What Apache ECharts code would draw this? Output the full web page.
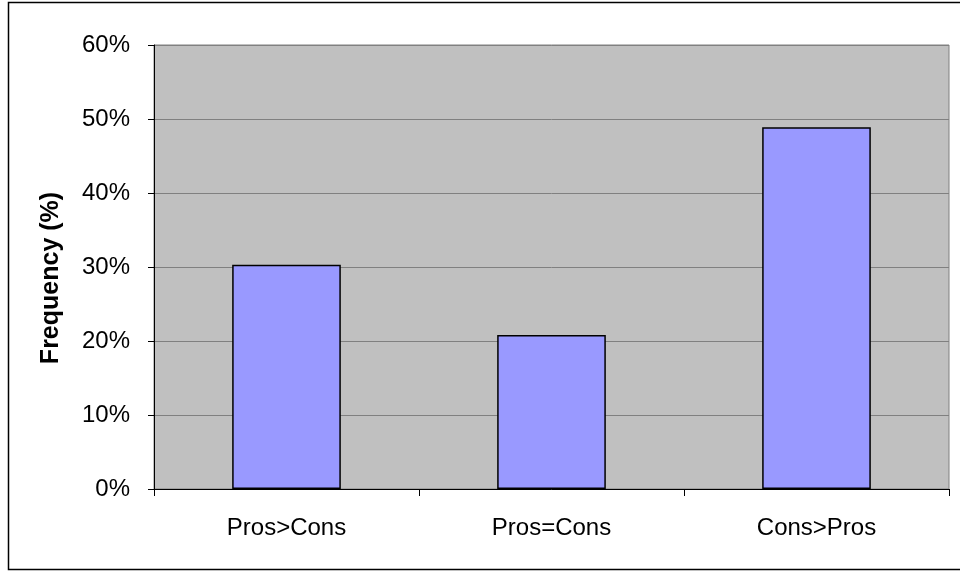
<!DOCTYPE html>
<html>
<head>
<meta charset="utf-8">
<script src="https://cdn.jsdelivr.net/npm/echarts@6/dist/echarts.min.js"></script>
<style>
html,body{margin:0;padding:0;background:#fff;}
#chart{width:960px;height:571px;}
</style>
</head>
<body>
<div id="chart"></div>
<script>
// Share of responses per comparison group
const categories = ['Pros>Cons', 'Pros=Cons', 'Cons>Pros'];
const frequency = [30.3, 20.8, 48.9];
const yTicks = { min: 0, max: 60, interval: 10 };

const chart = echarts.init(document.getElementById('chart'), null, { renderer: 'canvas' });
const font = '"Liberation Sans", Arial, sans-serif';

chart.setOption({
  animation: false,
  backgroundColor: '#ffffff',
  graphic: [{
    type: 'rect',
    shape: { x: 8.5, y: 2.5, width: 960, height: 567 },
    style: { fill: 'none', stroke: '#000', lineWidth: 1.5 },
    silent: true
  }],
  grid: {
    left: 154, right: 11, top: 45, bottom: 82,
    show: true, backgroundColor: '#C0C0C0', borderColor: '#808080', borderWidth: 1
  },
  xAxis: {
    type: 'category',
    data: categories,
    axisLine: { lineStyle: { color: '#000', width: 1 } },
    axisTick: { show: true, length: 7, lineStyle: { color: '#000' } },
    axisLabel: { color: '#000', fontFamily: font, fontSize: 24, margin: 27 },
    splitLine: { show: false }
  },
  yAxis: {
    type: 'value',
    min: yTicks.min, max: yTicks.max, interval: yTicks.interval,
    name: 'Frequency (%)',
    nameLocation: 'middle',
    nameGap: 90,
    nameTextStyle: { color: '#000', fontFamily: font, fontSize: 25, fontWeight: 'bold', padding: [0, 22, 0, 0] },
    axisLine: { show: true, lineStyle: { color: '#000', width: 1 } },
    axisTick: { show: true, length: 6, lineStyle: { color: '#000' } },
    axisLabel: { color: '#000', fontFamily: font, fontSize: 24, margin: 24, formatter: v => v + '%' },
    splitLine: { show: true, lineStyle: { color: '#808080', width: 1 } }
  },
  series: [{
    type: 'bar',
    data: frequency,
    barWidth: '41%',
    itemStyle: { color: '#9999FF', borderColor: '#000', borderWidth: 1.5 }
  }]
});
</script>
</body>
</html>
